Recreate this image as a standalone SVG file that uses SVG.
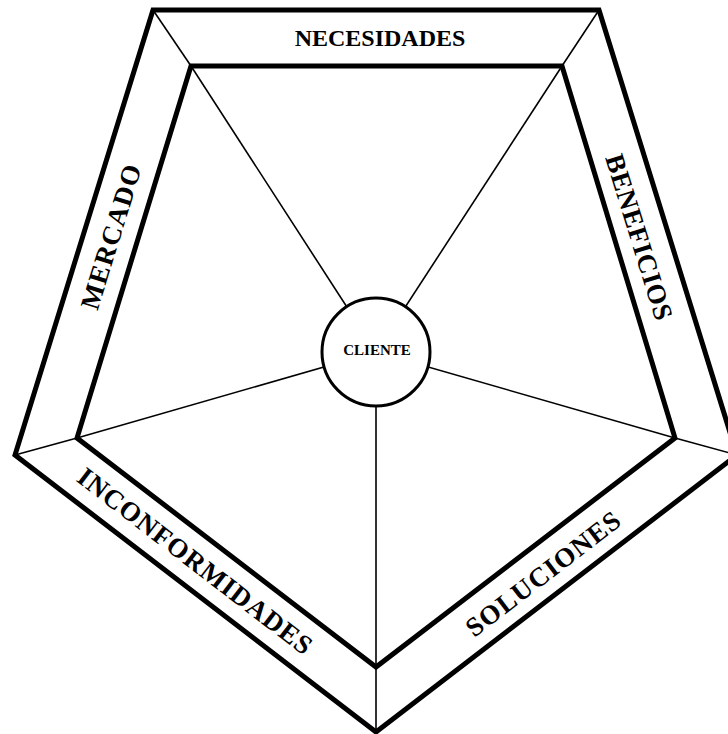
<svg xmlns="http://www.w3.org/2000/svg" width="728" height="734" viewBox="0 0 728 734">
<style>
.thick{fill:none;stroke:#000;stroke-width:5;stroke-linejoin:miter}
.thin{stroke:#000;stroke-width:1.6;fill:none}
.lbl{font-family:"Liberation Serif","Times New Roman",serif;font-weight:bold;font-size:27px;fill:#000;text-anchor:middle;dominant-baseline:central}
.top{font-size:24px}
.c{font-family:"Liberation Serif","Times New Roman",serif;font-weight:bold;font-size:15px;fill:#000;text-anchor:middle;dominant-baseline:central}
</style>
<rect width="728" height="734" fill="#fff"/>
<g id="frame">
<polygon class="thick" points="153,10 599,10 737,455 376,732 15,455"/>
<polygon class="thick" points="191,66 562,66 675,438 376,667 77,438"/>
</g>
<g id="connectors">
<line class="thin" x1="153" y1="10" x2="191" y2="66"/>
<line class="thin" x1="599" y1="10" x2="562" y2="66"/>
<line class="thin" x1="737" y1="455" x2="675" y2="438"/>
<line class="thin" x1="376" y1="732" x2="376" y2="667"/>
<line class="thin" x1="15" y1="455" x2="77" y2="438"/>
<line class="thin" x1="191" y1="66" x2="376" y2="352"/>
<line class="thin" x1="562" y1="66" x2="376" y2="352"/>
<line class="thin" x1="675" y1="438" x2="376" y2="352"/>
<line class="thin" x1="376" y1="667" x2="376" y2="352"/>
<line class="thin" x1="77" y1="438" x2="376" y2="352"/>
</g>
<g id="cliente">
<circle cx="376" cy="352" r="54" fill="#fff" stroke="#000" stroke-width="3"/>
<text class="c" x="377" y="350">CLIENTE</text>
</g>
<g id="necesidades">
<text class="lbl top" x="380" y="38">NECESIDADES</text>
</g>
<g id="mercado">
<text class="lbl" transform="translate(111,237) rotate(-72.8)" textLength="150" lengthAdjust="spacing">MERCADO</text>
</g>
<g id="beneficios">
<text class="lbl" transform="translate(639,237) rotate(72.8)" textLength="172" lengthAdjust="spacing">BENEFICIOS</text>
</g>
<g id="inconformidades">
<text class="lbl" transform="translate(195,561) rotate(37.5)" textLength="288" lengthAdjust="spacing">INCONFORMIDADES</text>
</g>
<g id="soluciones">
<text class="lbl" transform="translate(543,574) rotate(-37.5)" textLength="187" lengthAdjust="spacing">SOLUCIONES</text>
</g>
</svg>
